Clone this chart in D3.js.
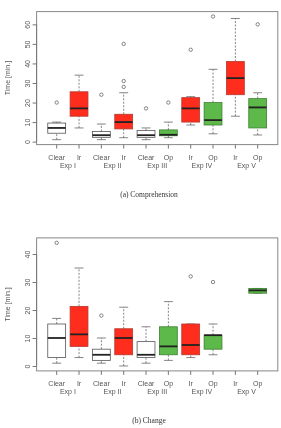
<!DOCTYPE html>
<html>
<head>
<meta charset="utf-8">
<script src="https://cdn.jsdelivr.net/npm/d3@7"></script>
<style>
  body { margin: 0; background: #fff; }
  svg { -webkit-font-smoothing: antialiased; will-change: transform; }
  svg text { font-family: "Liberation Sans", Arial, sans-serif; fill: #555; }
  .caption { font-family: "Liberation Serif", "Times New Roman", serif; fill: #333; }
</style>
</head>
<body>
<div id="container"></div>
<script>
const groups = ["Clear", "Ir", "Clear", "Ir", "Clear", "Op", "Ir", "Op", "Ir", "Op"];
const exps = ["Exp I", "Exp II", "Exp III", "Exp IV", "Exp V"];
const kinds = ["clear", "ir", "clear", "ir", "clear", "op", "ir", "op", "ir", "op"];

// [min, q1, median, q3, max]
const compStats = [
  [1, 4.3, 7, 9.5, 10],
  [7, 13, 17, 25.5, 34],
  [1, 2.2, 3.3, 5.2, 9],
  [2, 6.5, 10, 14, 25],
  [1, 2.2, 3.3, 5.7, 7],
  [2, 3, 3.5, 6, 10],
  [8.5, 10, 17, 22.5, 23],
  [4, 8.5, 11, 20, 37],
  [13, 24, 32.5, 41, 63],
  [3.4, 7, 17.5, 22, 25]
];
const compOutliers = [[20], [], [24], [28, 31, 50], [17], [20], [47], [64], [], [60]];

const changeStats = [
  [1, 3, 10, 15, 17],
  [3, 7, 11.3, 21.3, 35],
  [1, 2, 4, 6, 10],
  [0, 4, 10, 13.3, 21],
  [1, 3, 4, 8.7, 14],
  [2, 4, 7, 14, 23],
  [3, 4, 7.5, 15, 15],
  [4, 6, 11, 11, 15],
  null,
  [26, 26, 27, 27.7, 27.7]
];
const changeOutliers = [[44], [], [18], [], [], [], [32], [30], [], []];

const compTicks = [0, 10, 20, 30, 40, 50, 60];
const changeTicks = [0, 10, 20, 30, 40];

const fillOf = { clear: "#ffffff", ir: "#ff2d1e", op: "#5cb94a" };

const W = 281, H = 428;
const svg = d3.select("#container").append("svg").attr("width", W).attr("height", H);

function panel(stats, outliers, ticks, yDomain, top, bottom, caption, captionY) {
  const x = d3.scaleLinear().domain([0.1, 10.9]).range([36.6, 277.8]);
  const y = d3.scaleLinear().domain(yDomain).range([bottom, top]);
  const g = svg.append("g");
  const bw = x(1.4) - x(1);
  const cw = x(1.2) - x(1);

  g.append("rect").attr("x", x(0.1)).attr("y", top).attr("width", x(10.9) - x(0.1))
    .attr("height", bottom - top).attr("fill", "none").attr("stroke", "#888").attr("stroke-width", 1);

  // y axis
  const ya = g.append("g").attr("transform", `translate(${x(0.1)},0)`)
    .call(d3.axisLeft(y).tickValues(ticks).tickSize(4).tickPadding(3).tickSizeOuter(0));
  ya.select(".domain").attr("stroke", "#777").attr("d", `M0,${y(ticks[0])}V${y(ticks[ticks.length - 1])}`);
  ya.selectAll(".tick line").attr("stroke", "#777");
  ya.selectAll(".tick text").attr("font-size", 7).attr("fill", "#555")
    .attr("font-family", "Liberation Sans, Arial, sans-serif")
    .attr("transform", "rotate(-90)").attr("text-anchor", "middle")
    .attr("x", 0).attr("y", -9).attr("dy", "0.32em");

  g.append("text").attr("transform", `translate(8,${(top + bottom) / 2}) rotate(-90)`)
    .attr("text-anchor", "middle").attr("dy", "0.32em").attr("font-size", 7).text("Time [min.]");

  // x ticks and labels
  groups.forEach((name, i) => {
    const cx = x(i + 1);
    g.append("line").attr("x1", cx).attr("x2", cx).attr("y1", bottom).attr("y2", bottom + 4)
      .attr("stroke", "#777");
    g.append("text").attr("x", cx).attr("y", bottom + 15).attr("text-anchor", "middle")
      .attr("font-size", 7).text(name);
  });
  exps.forEach((e, i) => {
    g.append("text").attr("x", x(2 * i + 1.5)).attr("y", bottom + 23.5).attr("text-anchor", "middle")
      .attr("font-size", 7).text(e);
  });

  stats.forEach((s, i) => {
    if (!s) return;
    const cx = x(i + 1);
    const [mn, q1, md, q3, mx] = s;
    const k = kinds[i];
    // whiskers
    [[mn, q1], [q3, mx]].forEach(([a, b]) => {
      if (a === b) return;
      g.append("line").attr("x1", cx).attr("x2", cx).attr("y1", y(a)).attr("y2", y(b))
        .attr("stroke", "#666").attr("stroke-width", 0.8).attr("stroke-dasharray", "2,1.5");
    });
    [mn, mx].forEach(v => {
      g.append("line").attr("x1", cx - cw).attr("x2", cx + cw).attr("y1", y(v)).attr("y2", y(v))
        .attr("stroke", "#666").attr("stroke-width", 0.8);
    });
    g.append("rect").attr("x", cx - bw).attr("y", y(q3)).attr("width", 2 * bw)
      .attr("height", Math.max(y(q1) - y(q3), 0.5)).attr("fill", fillOf[k])
      .attr("stroke", k === "clear" ? "#555" : (k === "ir" ? "#b33a2e" : "#3f7f33")).attr("stroke-width", 0.8);
    g.append("line").attr("x1", cx - bw).attr("x2", cx + bw).attr("y1", y(md)).attr("y2", y(md))
      .attr("stroke", "#222").attr("stroke-width", 1.8);
    outliers[i].forEach(v => {
      g.append("circle").attr("cx", cx).attr("cy", y(v)).attr("r", 1.7)
        .attr("fill", "none").attr("stroke", "#555").attr("stroke-width", 0.7);
    });
  });

  g.append("text").attr("class", "caption").attr("x", 149).attr("y", captionY)
    .attr("text-anchor", "middle").attr("font-size", 7.5).text(caption);
}

panel(compStats, compOutliers, compTicks, [-1.52, 66.52], 11.6, 144.6, "(a) Comprehension", 197);
panel(changeStats, changeOutliers, changeTicks, [-1.76, 45.76], 237.9, 370.9, "(b) Change", 423);
</script>
</body>
</html>
